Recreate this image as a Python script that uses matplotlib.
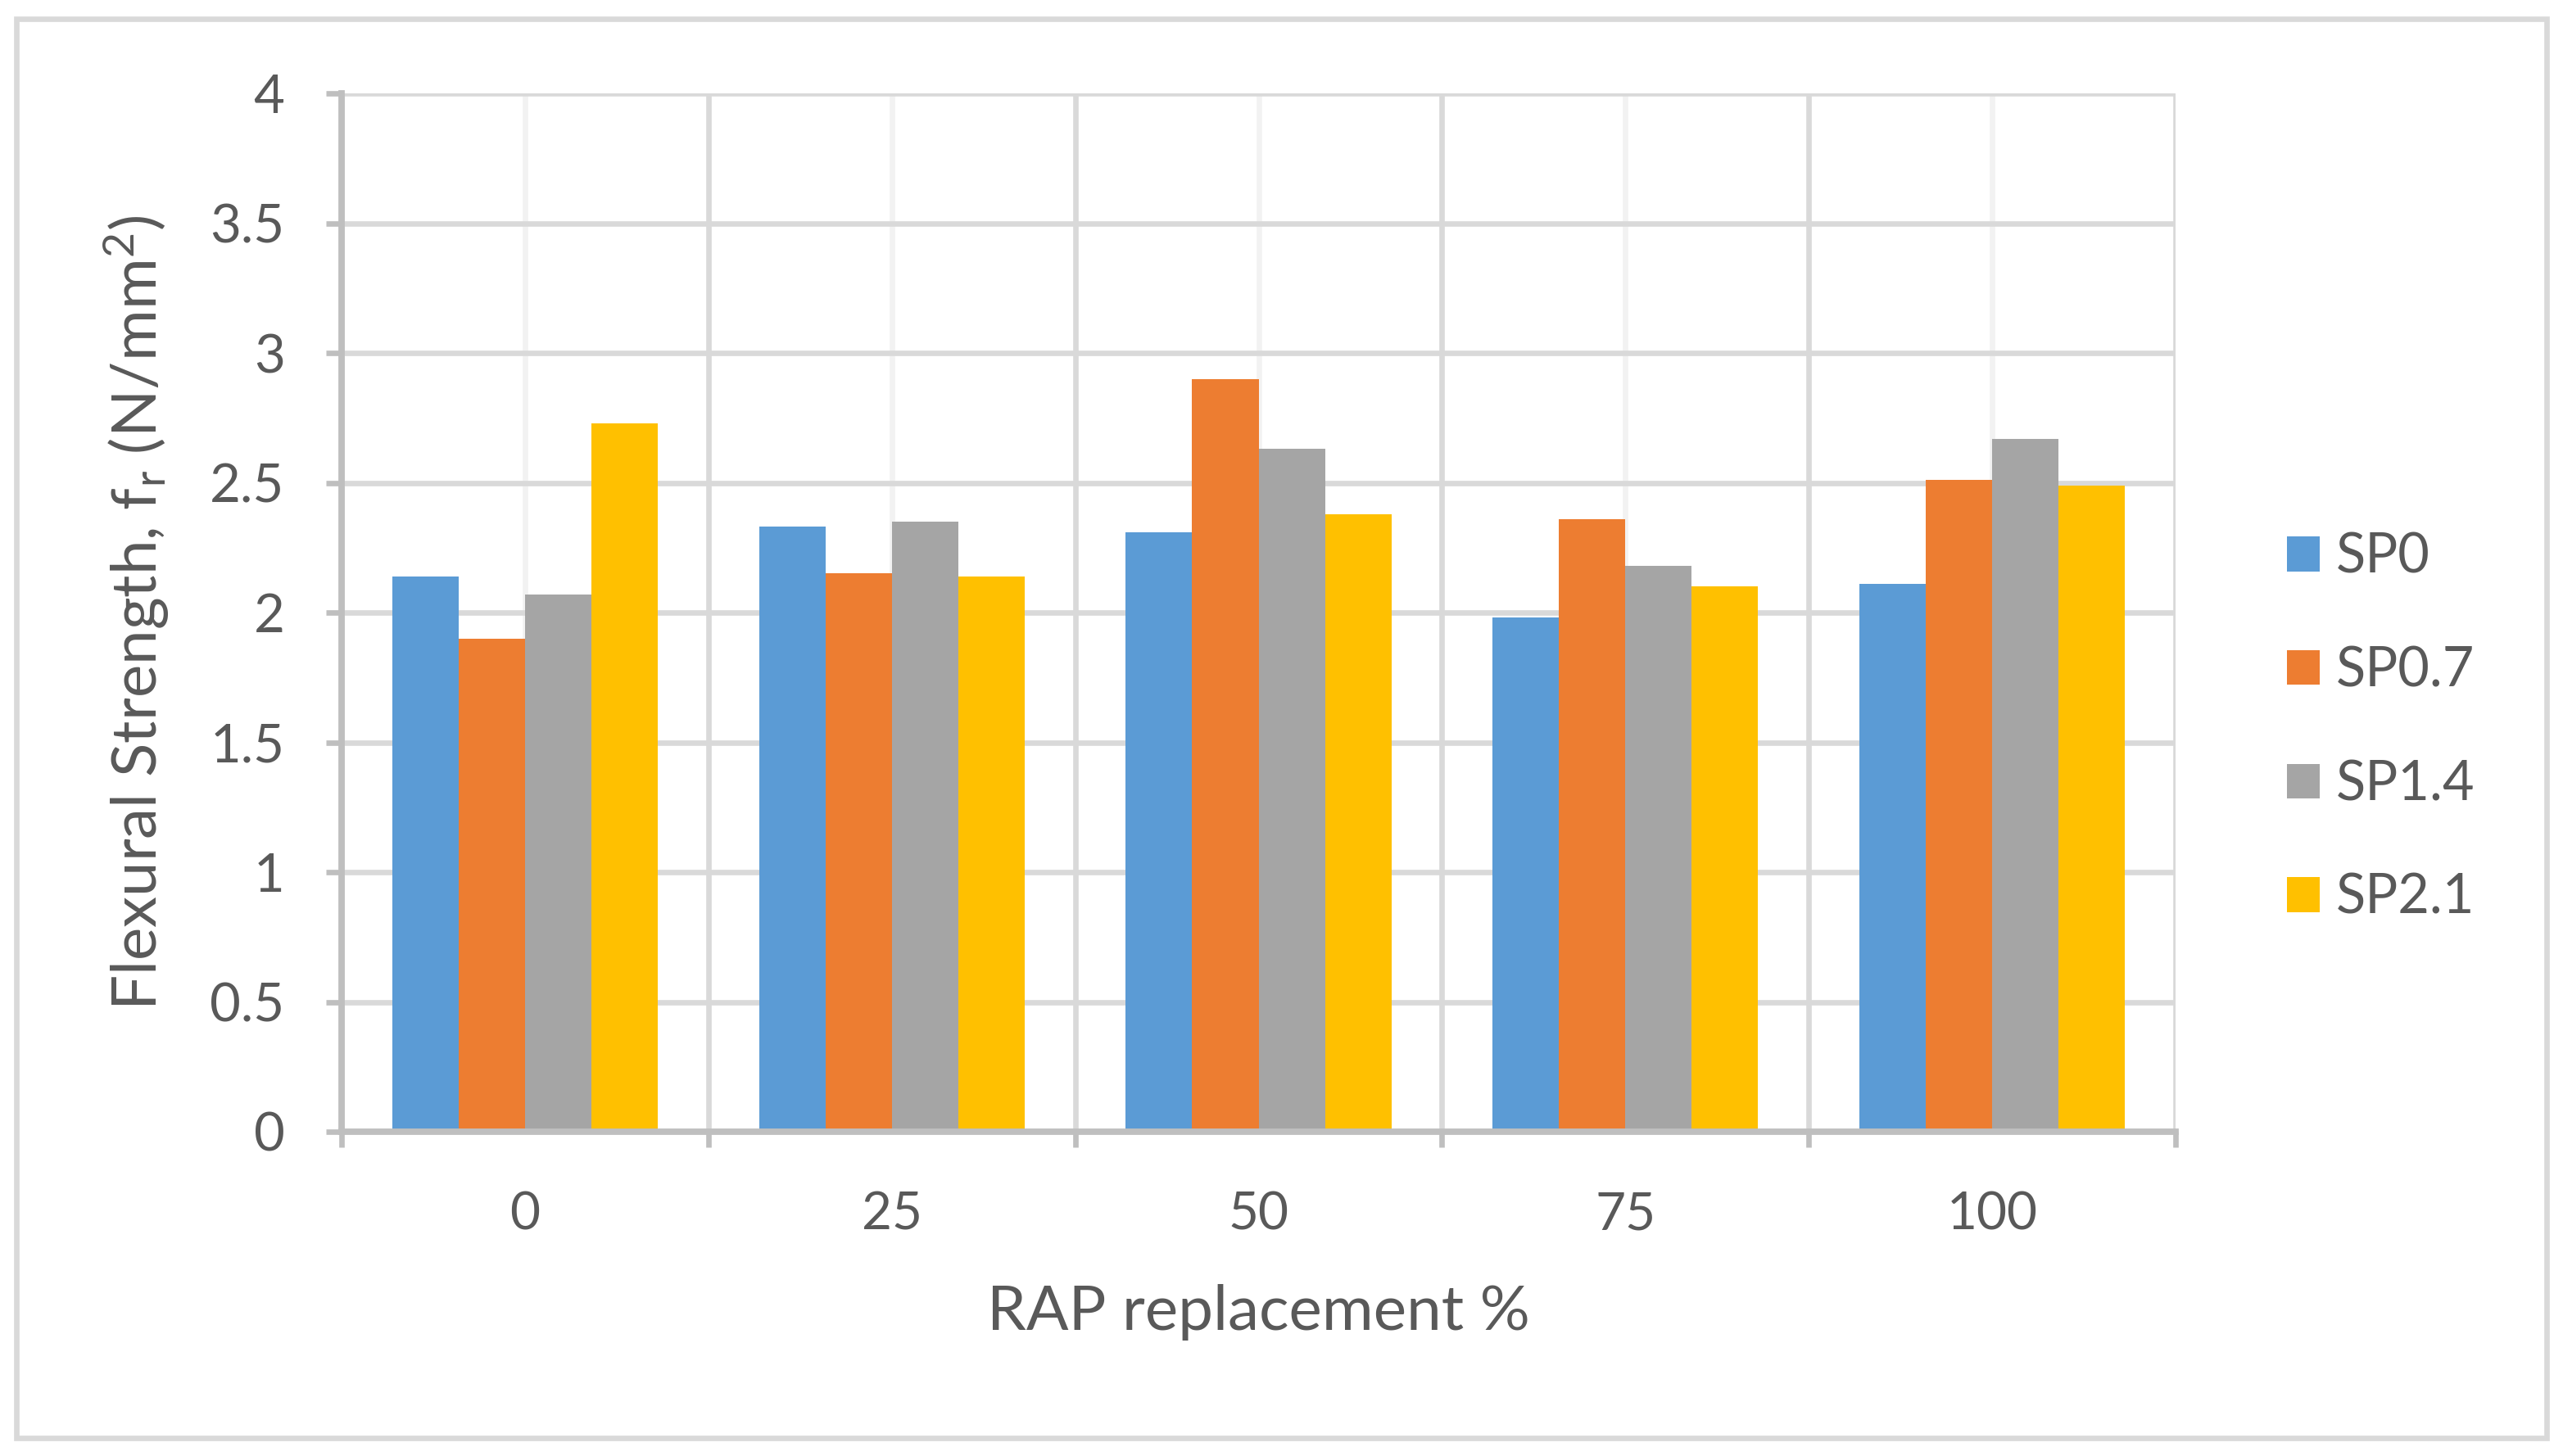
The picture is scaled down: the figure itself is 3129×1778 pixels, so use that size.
import numpy as np
import matplotlib.pyplot as plt
from matplotlib.patches import Rectangle

# -----------------------------
# Data
# -----------------------------
categories = ["0", "25", "50", "75", "100"]
series_names = ["SP0", "SP0.7", "SP1.4", "SP2.1"]
sp0 = [2.14, 2.33, 2.31, 1.98, 2.11]
sp07 = [1.90, 2.15, 2.90, 2.36, 2.51]
sp14 = [2.07, 2.35, 2.63, 2.18, 2.67]
sp21 = [2.73, 2.14, 2.38, 2.10, 2.49]
y_ticks = [0, 0.5, 1, 1.5, 2, 2.5, 3, 3.5, 4]
y_tick_labels = ["0", "0.5", "1", "1.5", "2", "2.5", "3", "3.5", "4"]

colors = ["#5B9BD5", "#ED7D31", "#A5A5A5", "#FFC000"]
text_col = "#595959"

plt.rcParams['font.family'] = ['Lato', 'DejaVu Sans']
plt.rcParams['mathtext.default'] = 'regular'

# -----------------------------
# Figure
# -----------------------------
fig = plt.figure(figsize=(3129/200, 1778/200), dpi=200)
ax = fig.add_axes([417/3129, 1 - 1382/1778, (2656-417)/3129, (1382-114)/1778])

x = np.arange(len(categories))
w = 0.181
all_series = [sp0, sp07, sp14, sp21]
for i, (vals, name) in enumerate(zip(all_series, series_names)):
    ax.bar(x + (i - 1.5) * w, vals, width=w, color=colors[i], label=name, zorder=3)

ax.set_xlim(-0.5, len(categories) - 0.5)
ax.set_ylim(0, 4)

# major x ticks at category edges, labels on minor ticks at centres
ax.set_xticks(np.arange(-0.5, len(categories), 1.0))
ax.set_xticklabels([])
ax.set_xticks(x, minor=True)
ax.set_xticklabels(categories, minor=True)
ax.set_yticks(y_ticks)
ax.set_yticklabels(y_tick_labels)

ax.tick_params(axis='x', which='major', length=7, width=2.4, color="#BFBFBF")
ax.tick_params(axis='x', which='minor', length=0, pad=26, labelsize=23, labelcolor=text_col)
ax.tick_params(axis='y', length=7, width=2.4, color="#BFBFBF", pad=18,
               labelsize=23.5, labelcolor=text_col)

ax.set_axisbelow(True)
ax.grid(axis='y', which='major', color="#D9D9D9", linewidth=2.4)
ax.grid(axis='x', which='major', color="#D9D9D9", linewidth=2.4)
ax.grid(axis='x', which='minor', color="#F2F2F2", linewidth=2.4)

for s in ["top", "right"]:
    ax.spines[s].set_visible(False)
for s in ["left", "bottom"]:
    ax.spines[s].set_color("#BFBFBF")
    ax.spines[s].set_linewidth(2.8)
    ax.spines[s].set_zorder(4)

ax.set_xlabel("RAP replacement %", fontsize=27.5, color=text_col, labelpad=20)
ax.set_ylabel(r"Flexural Strength, f$_\mathregular{r}$ (N/mm$^\mathregular{2}$)",
              fontsize=27.5, color=text_col, labelpad=17)

leg = fig.legend(loc='center left', bbox_to_anchor=(2732/3129, 0.5), frameon=False,
                 fontsize=24, labelcolor=text_col, handlelength=0.6, handleheight=0.6,
                 handletextpad=0.3, labelspacing=1.15)

# outer chart border
fig.patches.append(Rectangle((20/3129, 1 - 1756/1778), (3109-20)/3129, (1756-23)/1778,
                             transform=fig.transFigure, fill=False,
                             edgecolor="#D9D9D9", linewidth=2.4))

fig.savefig("out.png", dpi=200, facecolor="white")
